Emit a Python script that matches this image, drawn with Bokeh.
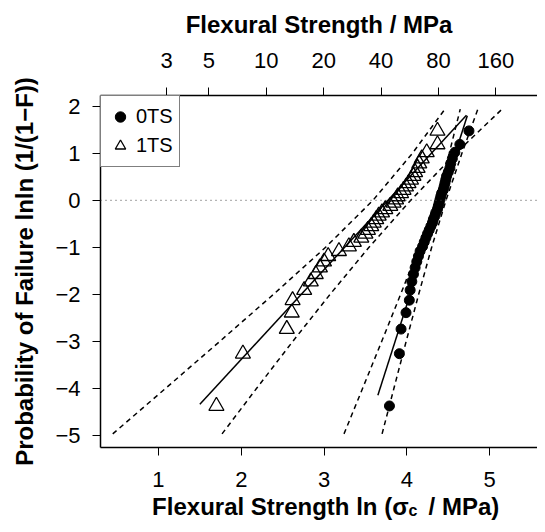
import numpy as np
from bokeh.plotting import figure
from bokeh.models import (Range1d, LinearAxis, FixedTicker, CustomJSTickFormatter,
                          Span, Legend, LegendItem)
from bokeh.embed import file_html
from bokeh.resources import INLINE

# ---------------- data ----------------
# Weibull plotting position lnln(1/(1-F)) for rank i of 40 specimens
lnln_F = [-4.376, -3.264, -2.740, -2.391, -2.126, -1.911, -1.730, -1.572, -1.432, -1.305,
          -1.189, -1.082, -0.982, -0.888, -0.798, -0.713, -0.631, -0.553, -0.477, -0.403,
          -0.331, -0.260, -0.190, -0.122, -0.053, 0.015, 0.083, 0.151, 0.220, 0.291,
          0.363, 0.438, 0.515, 0.597, 0.685, 0.781, 0.890, 1.020, 1.189, 1.477]

# ln(strength) of series 0TS (filled circles), sorted
x_0TS = [3.79, 3.91, 3.93, 3.99, 4.03, 4.04, 4.06, 4.08, 4.10, 4.12,
         4.14, 4.16, 4.19, 4.21, 4.23, 4.25, 4.27, 4.29, 4.31, 4.32,
         4.34, 4.35, 4.37, 4.38, 4.39, 4.40, 4.41, 4.42, 4.44, 4.45,
         4.46, 4.47, 4.48, 4.50, 4.52, 4.53, 4.55, 4.58, 4.64, 4.75]

# ln(strength) of series 1TS (open triangles), sorted
x_1TS = [1.70, 2.02, 2.55, 2.61, 2.62, 2.76, 2.84, 2.90, 2.95, 3.00,
         3.05, 3.18, 3.30, 3.36, 3.45, 3.50, 3.53, 3.57, 3.60, 3.63,
         3.66, 3.70, 3.74, 3.80, 3.84, 3.87, 3.89, 3.93, 3.96, 3.99,
         4.02, 4.05, 4.08, 4.10, 4.13, 4.15, 4.18, 4.24, 4.37, 4.37]

# fitted Weibull lines (end points)
fit_0TS_x = [3.65, 4.73]
fit_0TS_y = [-4.15, 1.80]
fit_1TS_x = [1.50, 4.72]
fit_1TS_y = [-4.34, 1.81]

# confidence bands (dashed)
band_y = [-4.97, -4.0, -3.0, -2.0, -1.0, 0.0, 1.0, 1.94]
band_1TS_upper_x = [0.448, 1.087, 1.742, 2.390, 3.019, 3.591, 4.067, 4.460]
band_1TS_lower_x = [1.768, 2.186, 2.623, 3.073, 3.543, 4.047, 4.591, 5.150]
band_0TS_upper_x = [3.241, 3.466, 3.697, 3.925, 4.148, 4.350, 4.512, 4.645]
band_0TS_lower_x = [3.701, 3.844, 3.992, 4.143, 4.300, 4.473, 4.665, 4.858]

reference_level = 0.0

bottom_ticks = [1, 2, 3, 4, 5]
left_ticks = [-5, -4, -3, -2, -1, 0, 1, 2]
top_tick_labels = [3, 5, 10, 20, 40, 80, 160]

FONT = "Liberation Sans"
NB = "\u00a0"
# horizontal place of the subscript "c" in the bottom title (axis units)
SUBSCRIPT_X = 4.074

# ---------------- figure ----------------
p = figure(width=537, height=524, x_range=Range1d(0.3, 5.578), y_range=Range1d(-5.26, 2.23),
           output_backend="svg", toolbar_location=None,
           min_border_left=100, min_border_right=0, min_border_top=95, min_border_bottom=77)
p.xgrid.visible = False
p.ygrid.visible = False
p.outline_line_color = None
p.background_fill_color = "white"
p.border_fill_color = "white"

top_axis = LinearAxis()
p.add_layout(top_axis, "above")


def style_axis(ax):
    ax.axis_line_color = "black"
    ax.axis_line_width = 1.5
    ax.major_tick_out = 8
    ax.major_tick_in = 0
    ax.major_tick_line_color = "black"
    ax.major_tick_line_width = 1
    ax.minor_tick_out = 0
    ax.minor_tick_in = 0
    ax.minor_tick_line_color = None
    ax.major_label_text_font = FONT
    ax.major_label_text_font_size = "22px"
    ax.major_label_text_color = "black"
    ax.axis_label_text_font = FONT
    ax.axis_label_text_font_size = "24px"
    ax.axis_label_text_font_style = "bold"
    ax.axis_label_text_color = "black"


bottom_axis = p.below[0]
left_axis = p.left[0]
for ax in (bottom_axis, left_axis, top_axis):
    style_axis(ax)

bottom_axis.ticker = FixedTicker(ticks=bottom_ticks)
bottom_axis.major_label_standoff = 16
bottom_axis.axis_label = None

left_axis.ticker = FixedTicker(ticks=left_ticks)
left_axis.formatter = CustomJSTickFormatter(
    code="return tick < 0 ? '\u2212' + Math.abs(tick) : String(tick);")
left_axis.major_label_standoff = 12
left_axis.axis_label = "Probability of Failure lnln (1/(1\u2212F))"
left_axis.axis_label_standoff = 14

top_axis.ticker = FixedTicker(ticks=[float(np.log(v)) for v in top_tick_labels])
top_axis.formatter = CustomJSTickFormatter(code="return String(Math.round(Math.exp(tick)));")
top_axis.major_label_standoff = 20
top_axis.axis_label = "Flexural Strength / MPa"
top_axis.axis_label_standoff = 12

# bottom title: an extra, line-less axis whose single tick label is the subscript "c"
# and whose axis label is the title text, pulled up over the subscript
title_axis = LinearAxis(ticker=FixedTicker(ticks=[SUBSCRIPT_X]),
                        formatter=CustomJSTickFormatter(code="return 'c';"))
style_axis(title_axis)
title_axis.axis_line_color = None
title_axis.major_tick_line_color = None
title_axis.major_tick_out = 0
title_axis.major_label_text_font_size = "16px"
title_axis.major_label_text_font_style = "bold"
title_axis.major_label_standoff = 12
title_axis.axis_label = (NB + NB + "Flexural Strength ln (\u03c3" + NB + NB + NB + "/ MPa)")
title_axis.axis_label_standoff = -29
p.add_layout(title_axis, "below")

# reference line at 0
p.add_layout(Span(location=reference_level, dimension="width", line_color="#444444",
                  line_width=1, line_dash="1 4"))

# confidence bands
for bx in (band_1TS_upper_x, band_1TS_lower_x, band_0TS_upper_x, band_0TS_lower_x):
    p.line(bx, band_y, line_color="black", line_width=1.5, line_dash="5 4")

# fitted lines
p.line(fit_1TS_x, fit_1TS_y, line_color="black", line_width=1.5)
p.line(fit_0TS_x, fit_0TS_y, line_color="black", line_width=1.5)

# data points
r0 = p.scatter(x_0TS, lnln_F, marker="circle", size=10, fill_color="black", line_color="black")
r1 = p.scatter(x_1TS, lnln_F, marker="triangle", size=15, fill_color=None,
               line_color="black", line_width=1.3)

legend = Legend(items=[LegendItem(label="0TS", renderers=[r0]),
                       LegendItem(label="1TS", renderers=[r1])],
                location="top_left", margin=0, padding=6, spacing=0,
                glyph_width=26, glyph_height=29, label_standoff=3, label_height=29,
                label_text_font=FONT, label_text_font_size="20px", label_text_color="black",
                border_line_color="black", border_line_width=1.5,
                background_fill_color="white", background_fill_alpha=1.0)
p.add_layout(legend)

open("out.html", "w").write(file_html(p, INLINE))
